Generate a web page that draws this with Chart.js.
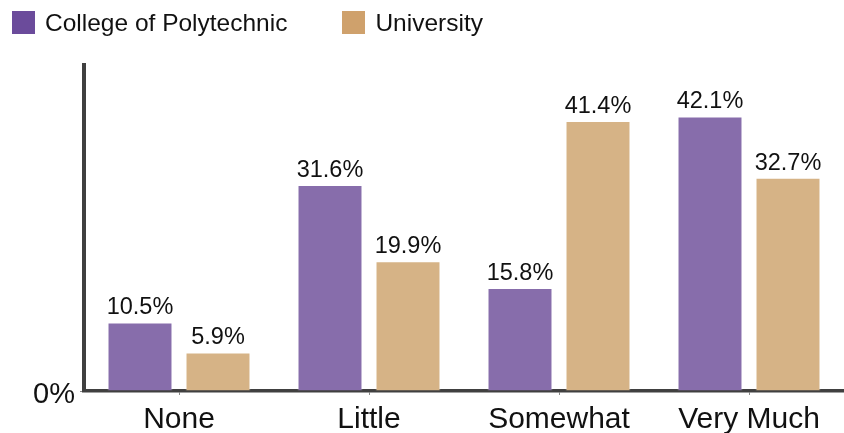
<!DOCTYPE html>
<html>
<head>
<meta charset="utf-8">
<script src="https://cdn.jsdelivr.net/npm/chart.js@4.4.1/dist/chart.umd.min.js"></script>
<style>
  html, body { margin: 0; padding: 0; background: #fff; }
  #wrap { position: relative; width: 844px; height: 433px; }
  #legenda { position: absolute; left: 12px; top: 11px; font-family: 'Liberation Sans', Arial, sans-serif; font-size: 24.5px; color: #111; display: flex; }
  .item { display: flex; align-items: center; height: 23px; }
  .box { width: 23px; height: 23px; margin-right: 10px; }
</style>
</head>
<body>
<div id="wrap">
  <canvas id="grafico" width="844" height="433"></canvas>
  <div id="legenda"></div>
</div>
<script>
// Dados
const categorias = ['None', 'Little', 'Somewhat', 'Very Much'];
const politecnico = [10.5, 31.6, 15.8, 42.1];
const universidade = [5.9, 19.9, 41.4, 32.7];
const nomesSeries = ['College of Polytechnic', 'University'];
const ticksY = [0];

const corBarra = ['#876dab', '#d6b386'];
const corLegenda = ['#6b4b9b', '#cfa16c'];
const fonte = "'Liberation Sans', Arial, sans-serif";

// Legenda em HTML
const legenda = document.getElementById('legenda');
legenda.innerHTML = nomesSeries.map((n, i) => `
  <div class="item" style="margin-right:${i === 0 ? 55 : 0}px">
    <span class="box" style="background:${corLegenda[i]}"></span><span>${n}</span>
  </div>`).join('');

// Rótulos acima das barras
const rotulos = {
    id: 'rotulos',
    afterDatasetsDraw(chart) {
        const ctx = chart.ctx;
        ctx.save();
        ctx.font = `23.5px ${fonte}`;
        ctx.fillStyle = '#111';
        ctx.textAlign = 'center';
        ctx.textBaseline = 'bottom';
        chart.data.datasets.forEach((ds, i) => {
            chart.getDatasetMeta(i).data.forEach((bar, j) => {
                ctx.fillText(ds.data[j].toFixed(1) + '%', bar.x, bar.y - 3);
            });
        });
        ctx.restore();
    }
};

new Chart(document.getElementById('grafico'), {
    type: 'bar',
    data: {
        labels: categorias,
        datasets: [
            { label: nomesSeries[0], data: politecnico, backgroundColor: corBarra[0], borderColor: 'rgba(255,255,255,0.35)', borderWidth: 1 },
            { label: nomesSeries[1], data: universidade, backgroundColor: corBarra[1], borderColor: 'rgba(255,255,255,0.35)', borderWidth: 1 }
        ]
    },
    options: {
        responsive: false,
        animation: false,
        layout: { padding: { top: 65, left: 0, right: 0, bottom: 0 } },
        plugins: { legend: { display: false }, tooltip: { enabled: false } },
        datasets: { bar: { categoryPercentage: 0.821, barPercentage: 0.833 } },
        scales: {
            x: {
                grid: { drawOnChartArea: false, offset: false, tickLength: 4, color: '#888' },
                border: { color: '#404040', width: 3.5 },
                ticks: { font: { family: fonte, size: 30 }, color: '#111', padding: 7 },
                afterFit: (s) => { s.height = 42; }
            },
            y: {
                min: 0,
                max: 50,
                afterBuildTicks: (s) => { s.ticks = ticksY.map(v => ({ value: v })); },
                grid: { drawOnChartArea: false, tickLength: 4, color: '#888' },
                border: { color: '#404040', width: 4 },
                ticks: { font: { family: fonte, size: 29 }, color: '#111', padding: 5, labelOffset: 4, callback: (v) => v + '%' },
                afterFit: (s) => { s.width = 84; }
            }
        }
    },
    plugins: [rotulos]
});
</script>
</body>
</html>
